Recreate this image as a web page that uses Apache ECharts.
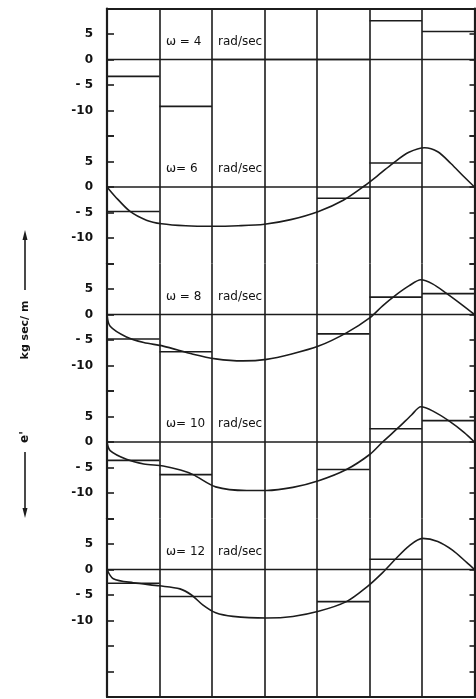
<!DOCTYPE html>
<html><head><meta charset="utf-8">
<script src="https://cdn.jsdelivr.net/npm/echarts@6/dist/echarts.min.js"></script>
<style>html,body{margin:0;padding:0;background:#fff}#c{width:476px;height:699px}</style>
</head><body><div id="c"></div>
<script>
// ---- data ----
const columns = [0, 1, 2, 3, 4, 5, 6, 7];
const panelLabels = ['ω = 4', 'ω= 6', 'ω = 8', 'ω= 10', 'ω= 12'];
const unitLabel = 'rad/sec';
const yTickLabels = {'5': '5', '0': '0', '-5': '- 5', '-10': '-10'};
const axisTitle = 'kg sec/ m';
const axisSymbol = "e'";

const steps4  = [-3.3, -9.2, 0, 0, 0, 7.6, 5.5];
const steps6  = [-4.8, null, null, null, -2.2, 4.7, null];
const steps8  = [-4.8, -7.3, null, null, -3.8, 3.4, 4.1];
const steps10 = [-3.6, -6.4, null, null, -5.4, 2.6, 4.2];
const steps12 = [-2.7, -5.3, null, null, -6.3, 2.0, null];

const curve4 = [];
const curve6 = [[0,0],[0.15,-1.8],[0.44,-4.8],[0.75,-6.5],[1.04,-7.2],[1.5,-7.6],[2.0,-7.7],[2.5,-7.6],[3.0,-7.3],[3.5,-6.4],[4.03,-4.8],[4.5,-2.6],[4.9,0.2],[5.2,2.6],[5.44,4.6],[5.75,6.8],[6.05,7.7],[6.3,6.9],[6.55,4.6],[6.8,2.0],[7,0]];
const curve8 = [[0,0],[0.06,-2.3],[0.37,-4.4],[0.7,-5.5],[1.07,-6.2],[1.64,-7.8],[2.07,-8.7],[2.59,-9.1],[3.04,-8.8],[3.5,-7.8],[4.03,-6.2],[4.56,-3.6],[5.01,-0.6],[5.25,1.7],[5.5,3.8],[5.75,5.6],[5.98,6.8],[6.2,6.0],[6.46,4.2],[6.75,2.0],[7,0]];
const curve10 = [[0,0],[0.06,-1.7],[0.37,-3.4],[0.7,-4.3],[1.07,-4.7],[1.4,-5.5],[1.64,-6.4],[2.07,-8.8],[2.66,-9.5],[3.04,-9.5],[3.54,-8.9],[4.03,-7.6],[4.56,-5.4],[5.01,-2.4],[5.25,0],[5.57,3.0],[5.8,5.3],[5.98,6.9],[6.2,6.1],[6.52,4.1],[6.8,1.9],[7,0]];
const curve12 = [[0,0],[0.12,-1.8],[0.5,-2.6],[1.0,-3.2],[1.39,-3.8],[1.61,-5.0],[1.83,-7.0],[2.07,-8.5],[2.4,-9.2],[3.04,-9.5],[3.54,-9.2],[4.03,-8.2],[4.56,-6.3],[4.94,-3.5],[5.25,-0.6],[5.51,2.2],[5.75,4.6],[6.01,6.1],[6.3,5.5],[6.58,3.8],[6.85,1.4],[7,0]];

const panelSteps = [steps4, steps6, steps8, steps10, steps12];
const panelCurves = [curve4, curve6, curve8, curve10, curve12];
const panelMax = [10, 10, 10, 10, 10];
const panelMin = [-15, -15, -15, -15, -25];

// ---- layout ----
const TOP = 8.5, UNIT = 5.1, LEFT = 107, RIGHT = 1.5;
const INK = '#1c1c1c';
const grids = [], xAxes = [], yAxes = [], series = [], graphics = [];
let cursor = TOP;
panelSteps.forEach((st, i) => {
  const h = (panelMax[i] - panelMin[i]) * UNIT;
  grids.push({left: LEFT, right: RIGHT, top: cursor, height: h});
  const zeroY = cursor + panelMax[i] * UNIT;
  xAxes.push({
    gridIndex: i, type: 'value', min: columns[0], max: columns[columns.length - 1], interval: 1,
    position: i === 0 ? 'top' : 'bottom',
    axisLine: {show: i === 0 || i === panelSteps.length - 1, onZero: false, lineStyle: {color: INK, width: 2.2}},
    axisTick: {show: false}, axisLabel: {show: false},
    splitLine: {show: true, lineStyle: {color: INK, width: 1.6}}
  });
  yAxes.push({
    gridIndex: i, type: 'value', min: panelMin[i], max: panelMax[i], interval: 5, position: 'left',
    axisLine: {show: true, onZero: false, lineStyle: {color: INK, width: 2.2}},
    axisTick: {show: true, inside: true, length: 7, lineStyle: {color: INK, width: 1.6}},
    axisLabel: {show: true, margin: 14, color: '#111', fontSize: 12, fontWeight: 'bold',
      fontFamily: 'DejaVu Sans',
      formatter: v => (yTickLabels[String(v)] !== undefined ? yTickLabels[String(v)] : '')},
    splitLine: {show: false}
  });
  yAxes.push({
    gridIndex: i, type: 'value', min: panelMin[i], max: panelMax[i], interval: 5, position: 'right',
    axisLine: {show: true, onZero: false, lineStyle: {color: INK, width: 2.2}},
    axisTick: {show: true, inside: true, length: 5, lineStyle: {color: INK, width: 1.6}},
    axisLabel: {show: false}, splitLine: {show: false}
  });
  const yL = i * 2;
  series.push({type: 'line', xAxisIndex: i, yAxisIndex: yL, data: [[0, 0], [7, 0]],
    symbol: 'none', silent: true, lineStyle: {color: INK, width: 1.6}});
  st.forEach((v, c) => {
    if (v === null) return;
    series.push({type: 'line', xAxisIndex: i, yAxisIndex: yL, data: [[columns[c], v], [columns[c + 1], v]],
      symbol: 'none', silent: true, lineStyle: {color: INK, width: 1.6}});
  });
  if (panelCurves[i].length) {
    series.push({type: 'line', xAxisIndex: i, yAxisIndex: yL, data: panelCurves[i], smooth: 0.3,
      symbol: 'none', silent: true, lineStyle: {color: INK, width: 1.6}});
  }
  graphics.push({type: 'text', left: 166, top: zeroY - 24,
    style: {text: panelLabels[i], fill: '#111', font: '12px "DejaVu Sans"'}});
  graphics.push({type: 'text', left: 218, top: zeroY - 24,
    style: {text: unitLabel, fill: '#111', font: '12px "DejaVu Sans"'}});
  cursor += h;
});

graphics.push({type: 'text', x: 25, y: 330, rotation: Math.PI / 2,
  style: {text: axisTitle, fill: '#111', font: 'bold 11px "DejaVu Sans"', align: 'center', verticalAlign: 'middle'}});
graphics.push({type: 'text', x: 25, y: 437, rotation: Math.PI / 2,
  style: {text: axisSymbol, fill: '#111', font: 'bold 12px "DejaVu Sans"', align: 'center', verticalAlign: 'middle'}});
graphics.push({type: 'line', shape: {x1: 25, y1: 290, x2: 25, y2: 238}, style: {stroke: INK, lineWidth: 1.6}});
graphics.push({type: 'polygon', shape: {points: [[25, 230], [22.5, 240], [27.5, 240]]}, style: {fill: INK}});
graphics.push({type: 'line', shape: {x1: 25, y1: 452, x2: 25, y2: 510}, style: {stroke: INK, lineWidth: 1.6}});
graphics.push({type: 'polygon', shape: {points: [[25, 518], [22.5, 508], [27.5, 508]]}, style: {fill: INK}});

const chart = echarts.init(document.getElementById('c'), null, {renderer: 'canvas'});
chart.setOption({
  animation: false, backgroundColor: '#fff',
  grid: grids, xAxis: xAxes, yAxis: yAxes, series: series, graphic: graphics
});
</script></body></html>
